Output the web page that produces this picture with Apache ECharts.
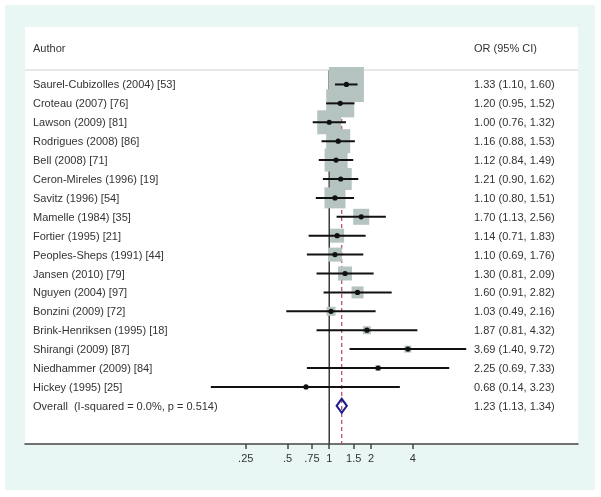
<!DOCTYPE html>
<html>
<head>
<meta charset="utf-8">
<script src="https://cdn.jsdelivr.net/npm/echarts@6/dist/echarts.min.js"></script>
<style>
html,body{margin:0;padding:0;background:#ffffff;}
#main{width:601px;height:497px;}
</style>
</head>
<body>
<div id="main"></div>
<script>
// ---------------- data ----------------
const authors = [
  'Saurel-Cubizolles (2004) [53]',
  'Croteau (2007) [76]',
  'Lawson (2009) [81]',
  'Rodrigues (2008) [86]',
  'Bell (2008) [71]',
  'Ceron-Mireles (1996) [19]',
  'Savitz (1996) [54]',
  'Mamelle (1984) [35]',
  'Fortier (1995) [21]',
  'Peoples-Sheps (1991) [44]',
  'Jansen (2010) [79]',
  'Nguyen (2004) [97]',
  'Bonzini (2009) [72]',
  'Brink-Henriksen (1995) [18]',
  'Shirangi (2009) [87]',
  'Niedhammer (2009) [84]',
  'Hickey (1995) [25]'
];
const oddsRatios = [1.33, 1.20, 1.00, 1.16, 1.12, 1.21, 1.10, 1.70, 1.14, 1.10, 1.30, 1.60, 1.03, 1.87, 3.69, 2.25, 0.68];
const ciLower    = [1.10, 0.95, 0.76, 0.88, 0.84, 0.90, 0.80, 1.13, 0.71, 0.69, 0.81, 0.91, 0.49, 0.81, 1.40, 0.69, 0.14];
const ciUpper    = [1.60, 1.52, 1.32, 1.53, 1.49, 1.62, 1.51, 2.56, 1.83, 1.76, 2.09, 2.82, 2.16, 4.32, 9.72, 7.33, 3.23];
const boxSizes   = [35, 28, 24, 24, 23, 22, 21, 16, 14, 14, 14, 12, 9, 8, 7, 5.5, 4];

const overallLabel = 'Overall  (I-squared = 0.0%, p = 0.514)';
const overallOR = 1.23;
const overallLower = 1.13;
const overallUpper = 1.34;

const headerLeft = 'Author';
const headerRight = 'OR (95% CI)';

const tickValues = [0.25, 0.5, 0.75, 1, 1.5, 2, 4];
const tickLabels = ['.25', '.5', '.75', '1', '1.5', '2', '4'];

// ---------------- layout ----------------
const FONT = "'Liberation Sans', Arial, sans-serif";
const TEXT_COLOR = '#333333';
const ROW_OFFSET = 3.04;   // y-units from top of plot to first study row
const Y_MAX = 22.06;
const HEADER_ROW = 1.11;
const SEP_ROW = 2.275;
const X_MIN = 0.0064, X_MAX = 62.2;
const LEFT_TEXT_DX = 8;     // px from grid left
const RIGHT_TEXT_DX = 449;  // px from grid left

const fmt2 = v => v.toFixed(2);
const ciText = (o, l, u) => fmt2(o) + ' (' + fmt2(l) + ', ' + fmt2(u) + ')';

const studyData = authors.map((a, i) => [oddsRatios[i], i + ROW_OFFSET, ciLower[i], ciUpper[i], boxSizes[i], i]);
const overallRow = authors.length + ROW_OFFSET;

const textRows = authors.map((a, i) => ({ left: a, right: ciText(oddsRatios[i], ciLower[i], ciUpper[i]), row: i + ROW_OFFSET }));
textRows.push({ left: overallLabel, right: ciText(overallOR, overallLower, overallUpper), row: overallRow });
textRows.unshift({ left: headerLeft, right: headerRight, row: HEADER_ROW });

const chart = echarts.init(document.getElementById('main'), null, { renderer: 'canvas' });

const option = {
  animation: false,
  backgroundColor: '#ffffff',
  graphic: [
    { type: 'rect', z: -10, shape: { x: 5, y: 5, width: 590, height: 485 }, style: { fill: '#e9f7f4' } },
    { type: 'rect', z: -9, shape: { x: 25, y: 27, width: 553, height: 417 }, style: { fill: '#ffffff' } }
  ],
  grid: { left: 25, right: 23, top: 27, bottom: 53, containLabel: false, show: false },
  xAxis: {
    type: 'log',
    logBase: 2,
    min: X_MIN,
    max: X_MAX,
    axisLine: { show: true, onZero: false, lineStyle: { color: '#444444', width: 1.5 } },
    axisTick: { show: true, customValues: tickValues, length: 5, lineStyle: { color: '#444444', width: 1.5 } },
    axisLabel: {
      customValues: tickValues,
      color: TEXT_COLOR, fontSize: 11, fontFamily: FONT, margin: 9,
      formatter: function (v) {
        for (let k = 0; k < tickValues.length; k++) {
          if (Math.abs(tickValues[k] - v) < 1e-6) return tickLabels[k];
        }
        return '';
      }
    },
    splitLine: { show: false },
    minorTick: { show: false }
  },
  yAxis: { type: 'value', inverse: true, min: 0, max: Y_MAX, show: false },
  series: [
    // reference lines (null line and overall dashed line)
    {
      type: 'custom', z: 1, silent: true,
      data: [[1, 0], [overallOR, 1]],
      renderItem: function (params, api) {
        const x = api.value(0);
        const top = api.coord([x, SEP_ROW]);
        const bot = api.coord([x, Y_MAX]);
        const dashed = api.value(1) === 1;
        return {
          type: 'line',
          shape: { x1: top[0], y1: top[1], x2: bot[0], y2: bot[1] },
          style: dashed ? { stroke: '#b2456e', lineWidth: 1.2, lineDash: [4, 3] }
                        : { stroke: '#3a3a3a', lineWidth: 1.5 }
        };
      }
    },
    // header separator
    {
      type: 'custom', z: 1, silent: true,
      data: [[1, SEP_ROW]],
      renderItem: function (params, api) {
        const p = api.coord([1, api.value(1)]);
        const cs = params.coordSys;
        return { type: 'line', shape: { x1: cs.x, y1: p[1], x2: cs.x + cs.width, y2: p[1] }, style: { stroke: '#cfcfcf', lineWidth: 1 } };
      }
    },
    // weight boxes
    {
      type: 'custom', z: 2, silent: true,
      data: studyData,
      renderItem: function (params, api) {
        const c = api.coord([api.value(0), api.value(1)]);
        const s = api.value(4);
        return { type: 'rect', shape: { x: c[0] - s / 2, y: c[1] - s / 2, width: s, height: s }, style: { fill: '#b5c3c1' } };
      }
    },
    // CI lines and point estimates
    {
      type: 'custom', z: 3, silent: true,
      data: studyData,
      renderItem: function (params, api) {
        const row = api.value(1);
        const a = api.coord([api.value(2), row]);
        const b = api.coord([api.value(3), row]);
        const c = api.coord([api.value(0), row]);
        return {
          type: 'group',
          children: [
            { type: 'line', shape: { x1: a[0], y1: a[1], x2: b[0], y2: b[1] }, style: { stroke: '#111111', lineWidth: 2 } },
            { type: 'circle', shape: { cx: c[0], cy: c[1], r: 2.6 }, style: { fill: '#111111' } }
          ]
        };
      }
    },
    // overall diamond
    {
      type: 'custom', z: 4, silent: true,
      data: [[overallOR, overallRow, overallLower, overallUpper]],
      renderItem: function (params, api) {
        const row = api.value(1);
        const l = api.coord([api.value(2), row]);
        const u = api.coord([api.value(3), row]);
        const c = api.coord([api.value(0), row]);
        const h = 7;
        return {
          type: 'polygon',
          shape: { points: [[l[0], l[1]], [c[0], c[1] - h], [u[0], u[1]], [c[0], c[1] + h]] },
          style: { fill: 'none', stroke: '#1c1c8a', lineWidth: 2 }
        };
      }
    },
    // text columns
    {
      type: 'custom', z: 5, silent: true,
      data: textRows.map((t, i) => [1, t.row, i]),
      renderItem: function (params, api) {
        const t = textRows[api.value(2)];
        const p = api.coord([1, api.value(1)]);
        const cs = params.coordSys;
        const st = { fill: TEXT_COLOR, fontSize: 11, fontFamily: FONT, verticalAlign: 'middle', align: 'left' };
        return {
          type: 'group',
          children: [
            { type: 'text', x: cs.x + LEFT_TEXT_DX, y: p[1] + 1, style: Object.assign({ text: t.left }, st) },
            { type: 'text', x: cs.x + RIGHT_TEXT_DX, y: p[1] + 1, style: Object.assign({ text: t.right }, st) }
          ]
        };
      }
    }
  ]
};
chart.setOption(option);
</script>
</body>
</html>
